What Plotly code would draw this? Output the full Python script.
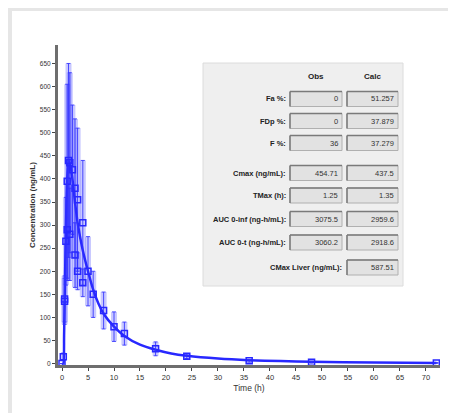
import plotly.graph_objects as go

# ---------------- data ----------------
calc_time = [0, 0.25, 0.4, 0.5, 0.75, 1.0, 1.2, 1.35, 1.6, 2.0, 2.5, 3, 4, 5, 6, 7, 8, 10, 12, 15, 18, 21, 24, 30, 36, 42, 48, 60, 72]
calc_conc = [0, 0, 60, 130, 290, 400, 432, 437.5, 430, 400, 350, 305, 245, 200, 160, 130, 108, 80, 60, 41, 30, 22, 17, 11, 7.5, 5.5, 4, 2.5, 1.5]

obs1_time = [0, 0.25, 0.5, 1, 1.25, 1.5, 2, 2.5, 3, 4, 5, 6, 8, 10, 12, 18, 24, 36, 48, 72]
obs1_conc = [0, 15, 140, 395, 440, 435, 420, 380, 355, 305, 200, 150, 115, 80, 65, 32, 16, 6, 3, 1.5]
obs1_sd = [0, 8, 50, 210, 210, 195, 140, 150, 155, 135, 75, 50, 40, 32, 25, 15, 5, 3, 2, 1]

obs2_time = [0.5, 0.75, 1, 1.5, 2.5, 3, 4]
obs2_conc = [135, 265, 290, 280, 235, 200, 175]
obs2_sd = [50, 95, 110, 100, 70, 40, 30]

x_ticks = list(range(0, 75, 5))
y_ticks = list(range(0, 700, 50))

table_labels = ["Fa %:", "FDp %:", "F %:", "Cmax (ng/mL):", "TMax (h):",
                "AUC 0-inf (ng-h/mL):", "AUC 0-t (ng-h/mL):", "CMax Liver (ng/mL):"]
table_obs = ["0", "0", "36", "454.71", "1.25", "3075.5", "3060.2", None]
table_calc = ["51.257", "37.879", "37.279", "437.5", "1.35", "2959.6", "2918.6", "587.51"]
table_headers = ["Obs", "Calc"]

# ---------------- layout geometry ----------------
W, H = 456, 413
OFF = 8  # page body margin offset
PW, PH = 382, 320
ML = 58 - OFF
MT = 45 - OFF
MR = W - ML - PW
MB = H - MT - PH


def px(x):
    return (x - OFF - ML) / PW


def py(y):
    return (MT + PH - (y - OFF)) / PH


BLUE = "rgb(40,40,255)"
FONT = "Liberation Sans, Arial, sans-serif"

fig = go.Figure()

# translucent wide error bars
for t, c, s in [(obs1_time, obs1_conc, obs1_sd), (obs2_time, obs2_conc, obs2_sd)]:
    fig.add_trace(go.Scatter(
        x=t, y=c, mode="markers", marker=dict(size=1, color="rgba(0,0,0,0)"),
        error_y=dict(type="data", array=s, visible=True, thickness=6, width=0,
                     color="rgba(90,90,255,0.33)"),
        showlegend=False, hoverinfo="skip"))

# calc curve
fig.add_trace(go.Scatter(
    x=calc_time, y=calc_conc, mode="lines",
    line=dict(color=BLUE, width=2.5, shape="spline", smoothing=0.6),
    showlegend=False))

# observed markers with thin error bars
for t, c, s in [(obs1_time, obs1_conc, obs1_sd), (obs2_time, obs2_conc, obs2_sd)]:
    fig.add_trace(go.Scatter(
        x=t, y=c, mode="markers",
        marker=dict(symbol="square-open", size=6, color=BLUE, line=dict(width=1.5, color=BLUE)),
        error_y=dict(type="data", array=s, visible=True, thickness=1, width=2,
                     color="rgba(50,50,255,0.85)"),
        showlegend=False))

shapes = []
# light gray frame (top and left bands)
shapes.append(dict(type="rect", xref="paper", yref="paper", x0=px(7), x1=px(W + 10), y0=py(11), y1=py(0),
                   fillcolor="#e6e6e6", line=dict(width=0), layer="below"))
shapes.append(dict(type="rect", xref="paper", yref="paper", x0=px(7), x1=px(12), y0=py(H + 10), y1=py(0),
                   fillcolor="#e6e6e6", line=dict(width=0), layer="below"))
# table panel
shapes.append(dict(type="rect", xref="paper", yref="paper", x0=px(203), x1=px(403), y0=py(286), y1=py(63),
                   fillcolor="#efefef", line=dict(width=1, color="#dcdcdc")))

annotations = []
row_y = [99, 121, 143, 173, 195.5, 219, 242.5, 267.5]
obs_box = (290, 342)
calc_box = (347, 398)
box_h = 15

for hdr, hx in zip(table_headers, [316, 372]):
    annotations.append(dict(text="<b>" + hdr + "</b>", x=px(hx), y=py(76), xref="paper", yref="paper",
                            xanchor="center", yanchor="middle", showarrow=False,
                            font=dict(family=FONT, size=8, color="#222")))

for i, lab in enumerate(table_labels):
    yc = row_y[i]
    label_right = 288 if table_obs[i] is not None else 344
    annotations.append(dict(text="<b>" + lab + "</b>", x=px(label_right), y=py(yc), xref="paper", yref="paper",
                            xanchor="right", yanchor="middle", showarrow=False,
                            font=dict(family=FONT, size=7.5, color="#222")))
    for box, val in [(obs_box, table_obs[i]), (calc_box, table_calc[i])]:
        if val is None:
            continue
        shapes.append(dict(type="rect", xref="paper", yref="paper", x0=px(box[0]), x1=px(box[1]),
                           y0=py(yc + box_h / 2), y1=py(yc - box_h / 2),
                           fillcolor="#e2e2e2", line=dict(width=1, color="#b0b0b0")))
        # sunken top/left edges
        shapes.append(dict(type="line", xref="paper", yref="paper", x0=px(box[0]), x1=px(box[1]),
                           y0=py(yc - box_h / 2), y1=py(yc - box_h / 2), line=dict(width=1.5, color="#7a7a7a")))
        shapes.append(dict(type="line", xref="paper", yref="paper", x0=px(box[0]), x1=px(box[0]),
                           y0=py(yc + box_h / 2), y1=py(yc - box_h / 2), line=dict(width=1.5, color="#7a7a7a")))
        annotations.append(dict(text=val, x=px(box[1] - 2), y=py(yc), xref="paper", yref="paper",
                                xanchor="right", yanchor="middle", showarrow=False,
                                font=dict(family=FONT, size=7.5, color="#333")))

fig.update_layout(
    width=W, height=H,
    margin=dict(l=ML, r=MR, t=MT, b=MB),
    paper_bgcolor="white", plot_bgcolor="white",
    shapes=shapes, annotations=annotations,
    xaxis=dict(range=[-0.77, 72.7], tickvals=x_ticks, ticktext=[str(v) for v in x_ticks],
               showgrid=False, zeroline=False, showline=True, linecolor="#6e6e6e", linewidth=3,
               ticks="outside", ticklen=3, tickcolor="#444", tickwidth=1,
               tickfont=dict(family=FONT, size=7.5, color="#333"),
               title=dict(text="Time (h)", font=dict(family=FONT, size=8.5, color="#333"), standoff=5)),
    yaxis=dict(range=[-3, 690], tickvals=y_ticks, ticktext=[str(v) for v in y_ticks],
               showgrid=False, zeroline=False, showline=True, linecolor="#6e6e6e", linewidth=3,
               ticks="outside", ticklen=3, tickcolor="#444", tickwidth=1,
               tickfont=dict(family=FONT, size=6.5, color="#333"),
               title=dict(text="<b>Concentration (ng/mL)</b>", font=dict(family=FONT, size=8, color="#333"), standoff=4)),
)

fig.write_html("out.html")
